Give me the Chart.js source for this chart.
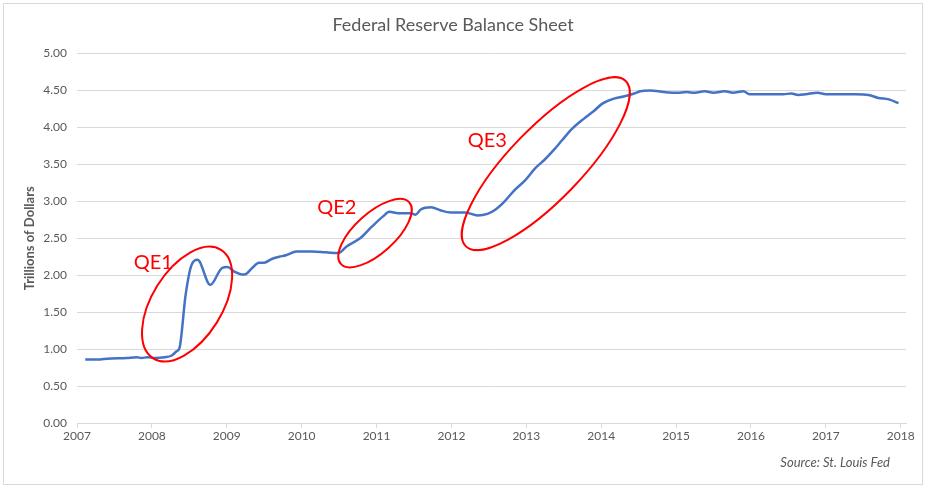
<!DOCTYPE html>
<html lang="en">
<head>
  <meta charset="UTF-8" />
  <title>Federal Reserve Balance Sheet</title>
  <script src="https://cdn.jsdelivr.net/npm/chart.js"></script>
  <style>
    body {
      margin: 0;
      background: white;
      font-family: Lato, sans-serif;
    }
    .wrap {
      position: absolute;
      left: 0;
      top: 0;
      width: 926px;
      height: 488px;
    }
    .frame {
      position: absolute;
      left: 3px;
      top: 3px;
      width: 918px;
      height: 480px;
      border: 1px solid #d9d9d9;
      pointer-events: none;
    }
  </style>
</head>
<body>

<div class="wrap">
  <canvas id="fedChart"></canvas>
</div>
<div class="frame"></div>

<script>
  // Fed balance sheet, trillions of dollars
  const years = [2007.11, 2007.31, 2007.40, 2007.66, 2007.80, 2007.86, 2007.94, 2008.04, 2008.17, 2008.26,
    2008.33, 2008.37, 2008.45, 2008.53, 2008.61, 2008.78, 2008.94, 2009.01, 2009.10, 2009.20,
    2009.26, 2009.34, 2009.43, 2009.50, 2009.60, 2009.70, 2009.79, 2009.93, 2010.13, 2010.32,
    2010.49, 2010.60, 2010.78, 2010.93, 2011.09, 2011.17, 2011.29, 2011.45, 2011.52, 2011.59,
    2011.73, 2011.85, 2011.99, 2012.18, 2012.35, 2012.48, 2012.59, 2012.71, 2012.84, 2012.98,
    2013.12, 2013.24, 2013.37, 2013.48, 2013.61, 2013.77, 2013.91, 2014.01, 2014.17, 2014.30,
    2014.44, 2014.52, 2014.65, 2014.84, 2015.01, 2015.14, 2015.25, 2015.38, 2015.50, 2015.65,
    2015.76, 2015.90, 2015.98, 2016.24, 2016.43, 2016.54, 2016.63, 2016.73, 2016.89, 2017.00,
    2017.40, 2017.57, 2017.70, 2017.84, 2017.97];
  const balance = [0.86, 0.86, 0.87, 0.88, 0.89, 0.88, 0.89, 0.88, 0.89, 0.91,
    0.97, 1.02, 1.73, 2.14, 2.21, 1.87, 2.10, 2.11, 2.05, 2.01,
    2.02, 2.10, 2.17, 2.17, 2.22, 2.25, 2.27, 2.32, 2.32, 2.31,
    2.30, 2.39, 2.50, 2.65, 2.80, 2.86, 2.84, 2.84, 2.82, 2.89,
    2.92, 2.88, 2.85, 2.85, 2.81, 2.83, 2.89, 3.00, 3.15, 3.28,
    3.45, 3.56, 3.70, 3.83, 3.98, 4.12, 4.23, 4.32, 4.39, 4.42,
    4.46, 4.49, 4.50, 4.48, 4.47, 4.48, 4.47, 4.49, 4.47, 4.49,
    4.47, 4.49, 4.45, 4.45, 4.45, 4.46, 4.44, 4.45, 4.47, 4.45,
    4.45, 4.44, 4.40, 4.38, 4.33];

  const yearTicks = [2007, 2008, 2009, 2010, 2011, 2012, 2013, 2014, 2015, 2016, 2017, 2018];

  // QE annotations: ellipse centre and label position in data units
  const qeNames = ['QE1', 'QE2', 'QE3'];
  const qeCenterYear = [2008.47, 2010.98, 2013.26];
  const qeCenterValue = [1.61, 2.57, 3.51];
  const qeLabelYear = [2008.02, 2010.47, 2012.48];
  const qeLabelValue = [2.17, 2.91, 3.82];

  // ellipse shape (pixels / degrees)
  const qeShape = [
    { rx: 64, ry: 35, angle: -58 },
    { rx: 46, ry: 20, angle: -42 },
    { rx: 115, ry: 36, angle: -46 }
  ];

  const grey = '#595959';
  const gridGrey = '#d9d9d9';

  const qePlugin = {
    id: 'qe',
    afterDatasetsDraw(chart) {
      const { ctx, scales: { x, y }, chartArea } = chart;
      ctx.save();
      ctx.strokeStyle = '#ff0000';
      ctx.lineWidth = 2;
      qeNames.forEach((name, i) => {
        const cx = x.getPixelForValue(qeCenterYear[i]);
        const cy = y.getPixelForValue(qeCenterValue[i]);
        const s = qeShape[i];
        ctx.beginPath();
        ctx.ellipse(cx, cy, s.rx, s.ry, s.angle * Math.PI / 180, 0, Math.PI * 2);
        ctx.stroke();
      });
      ctx.fillStyle = '#ff0000';
      ctx.font = '20px Lato';
      ctx.textAlign = 'center';
      ctx.textBaseline = 'middle';
      qeNames.forEach((name, i) => {
        ctx.fillText(name, x.getPixelForValue(qeLabelYear[i]), y.getPixelForValue(qeLabelValue[i]));
      });
      // source note
      ctx.fillStyle = grey;
      ctx.font = 'italic 13px Lato';
      ctx.textAlign = 'right';
      ctx.fillText('Source: St. Louis Fed', chartArea.right - 16, chartArea.bottom + 40);
      ctx.restore();
    }
  };

  const chart = new Chart(document.getElementById('fedChart'), {
    type: 'line',
    data: {
      datasets: [{
        label: 'Balance Sheet',
        data: years.map((yr, i) => ({ x: yr, y: balance[i] })),
        borderColor: '#4472C4',
        borderWidth: 2.5,
        pointRadius: 0,
        cubicInterpolationMode: 'monotone',
        fill: false
      }]
    },
    options: {
      responsive: true,
      maintainAspectRatio: false,
      animation: false,
      layout: { padding: { left: 0, right: 20, top: 0, bottom: 0 } },
      plugins: {
        legend: { display: false },
        tooltip: { enabled: false },
        title: {
          display: true,
          text: 'Federal Reserve Balance Sheet',
          color: grey,
          font: { family: 'Lato', size: 18, weight: 'normal' },
          padding: { top: 14, bottom: 18 }
        }
      },
      scales: {
        x: {
          type: 'linear',
          min: 2007,
          max: 2018.07,
          afterBuildTicks: axis => {
            axis.ticks = yearTicks.map(v => ({ value: v }));
          },
          afterFit: axis => { axis.height = 65; },
          ticks: {
            color: grey,
            font: { family: 'Lato', size: 12 },
            padding: 1,
            maxRotation: 0,
            callback: v => String(v)
          },
          grid: {
            drawOnChartArea: false,
            drawTicks: true,
            tickLength: 5,
            color: gridGrey
          },
          border: { display: true, color: gridGrey }
        },
        y: {
          min: 0,
          max: 5,
          afterFit: axis => { axis.width = 77; },
          ticks: {
            stepSize: 0.5,
            color: grey,
            font: { family: 'Lato', size: 12 },
            padding: 10,
            callback: v => v.toFixed(2)
          },
          grid: { color: gridGrey, drawTicks: false },
          border: { display: false },
          title: {
            display: true,
            text: 'Trillions of Dollars',
            color: grey,
            font: { family: 'Lato', size: 13, weight: 'bold' },
            padding: { top: 22, bottom: 0 }
          }
        }
      }
    },
    plugins: [qePlugin]
  });
</script>
</body>
</html>
